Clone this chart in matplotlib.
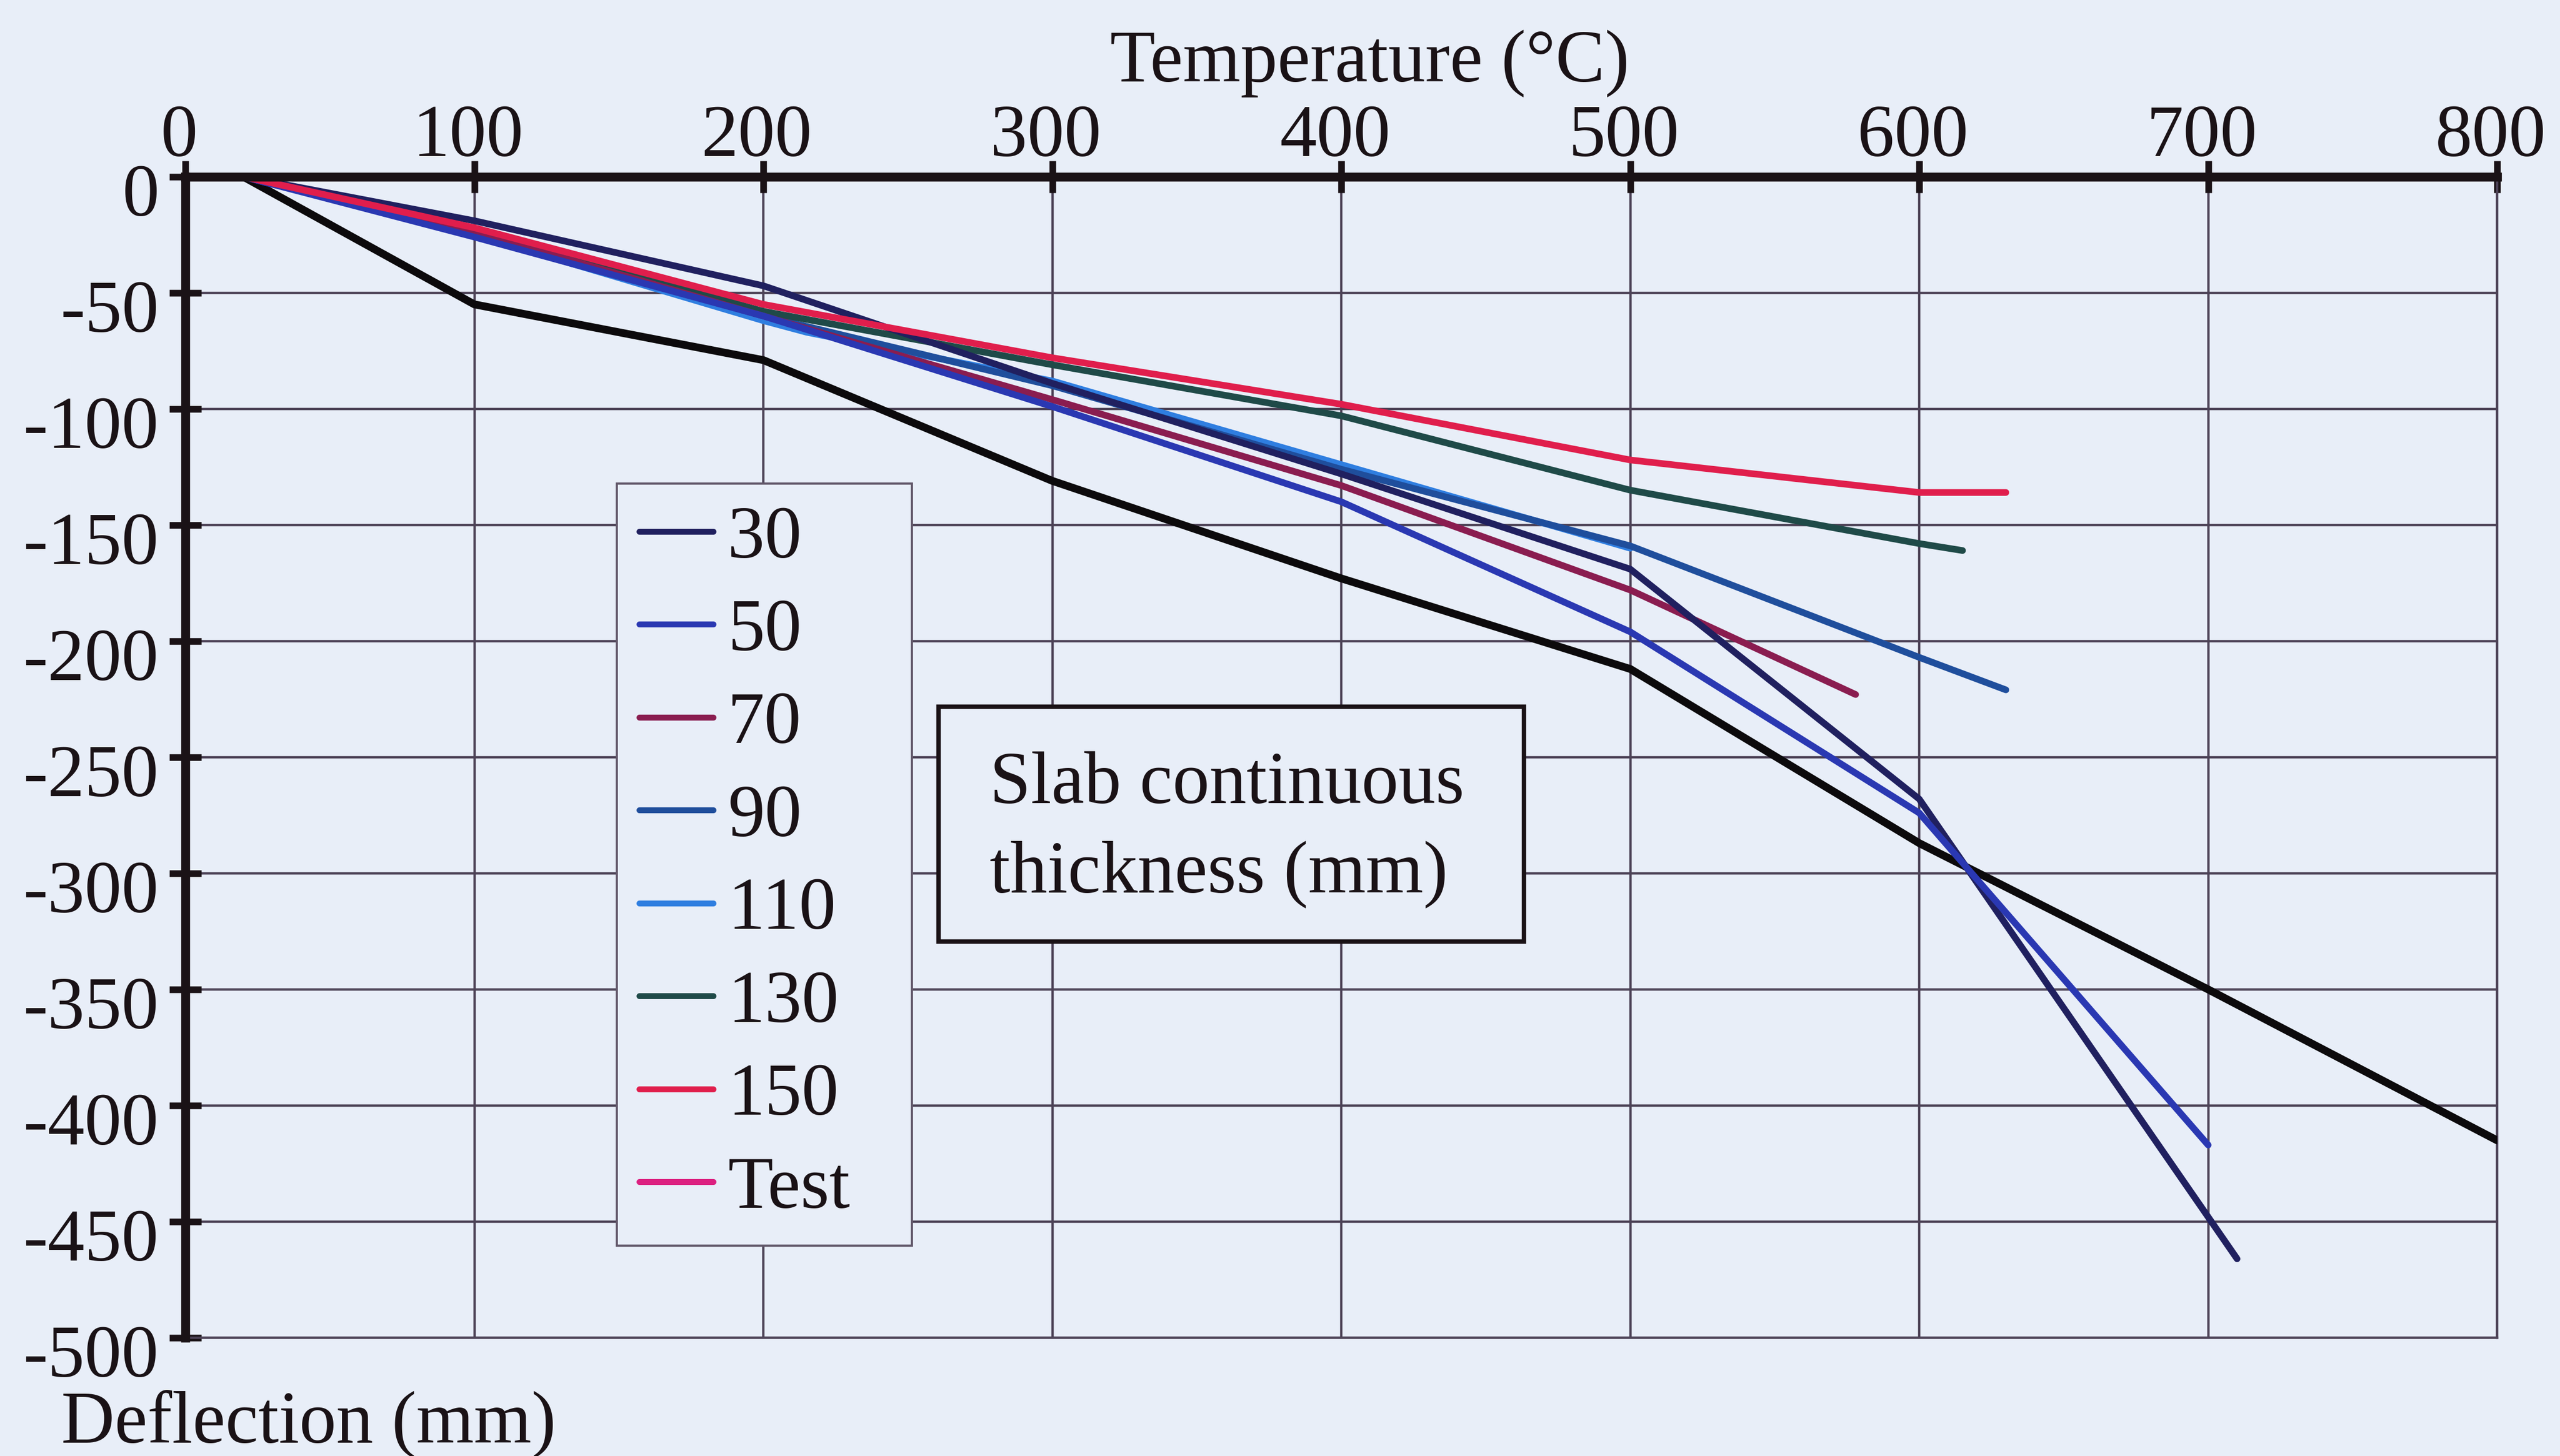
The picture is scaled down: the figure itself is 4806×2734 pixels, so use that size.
import matplotlib
matplotlib.use("Agg")
import matplotlib.pyplot as plt
import matplotlib.transforms as mtransforms
from matplotlib.patches import Rectangle

plt.rcParams["axes.unicode_minus"] = False

# Slab deflection vs temperature for different continuous slab thicknesses
temp_30 = [20, 100, 200, 300, 400, 500, 600, 700, 710]
defl_30 = [0, -19, -47, -89, -128, -169, -268, -448, -466]

temp_50 = [20, 100, 200, 300, 400, 500, 600, 700]
defl_50 = [0, -26, -60, -99, -140, -196, -274, -417]

temp_70 = [20, 100, 200, 300, 400, 500, 578]
defl_70 = [0, -24, -60, -96, -133, -178, -223]

temp_90 = [20, 100, 200, 300, 400, 500, 600, 630]
defl_90 = [0, -25, -60, -90, -126, -159, -207, -221]

temp_110 = [20, 100, 200, 215, 300, 400, 500]
defl_110 = [0, -25, -62, -67, -88, -124, -160]

temp_130 = [20, 100, 200, 300, 400, 500, 600, 615]
defl_130 = [0, -23, -58, -81, -103, -135, -158, -161]

temp_150 = [20, 100, 200, 300, 400, 500, 600, 630]
defl_150 = [0, -22, -55, -78, -98, -122, -136, -136]

temp_test = []
defl_test = []

temp_ref = [20, 100, 200, 300, 400, 500, 600, 700, 800]
defl_ref = [0, -55, -79, -131, -173, -212, -287, -350, -415]

labels = ["30", "50", "70", "90", "110", "130", "150", "Test"]
colors = ["#20205f", "#2a38b2", "#8a1d50", "#1f4e9c", "#2f7ee0",
          "#1f4a48", "#e01e4c", "#dc2080"]

x_ticks = [0, 100, 200, 300, 400, 500, 600, 700, 800]
y_ticks = [0, -50, -100, -150, -200, -250, -300, -350, -400, -450, -500]

BG = "#e8eef8"
INK = "#1a1216"
GRID = "#4c4256"
FONT = "Liberation Serif"
FS = 100

W, H = 4806, 2734
fig = plt.figure(figsize=(W / 100, H / 100), dpi=100, facecolor=BG)
ax = fig.add_axes([348 / W, 1 - 2512 / H, (4688 - 348) / W, (2512 - 331.7) / H])
ax.set_facecolor(BG)

ax.set_xlim(0, 800)
ax.set_ylim(-500, 0)
ax.set_xticks(x_ticks)
ax.set_yticks(y_ticks)
ax.xaxis.tick_top()
ax.yaxis.tick_left()
ax.grid(True, color=GRID, linewidth=3.2)
ax.set_axisbelow(True)

for side in ("left", "top"):
    ax.spines[side].set_linewidth(12)
    ax.spines[side].set_color(INK)
    ax.spines[side].set_zorder(5)
for side in ("right", "bottom"):
    ax.spines[side].set_linewidth(3.2)
    ax.spines[side].set_color(GRID)

ax.tick_params(axis="both", direction="inout", length=43, width=9, color=INK,
               labelsize=FS, labelcolor=INK)
ax.tick_params(axis="x", pad=-15)
ax.tick_params(axis="y", pad=14)
for lab in ax.get_xticklabels() + ax.get_yticklabels():
    lab.set_fontfamily(FONT)

# shift tick labels slightly relative to their ticks
dy = mtransforms.ScaledTranslation(0, -25 / 100, fig.dpi_scale_trans)
for lab in ax.get_yticklabels():
    lab.set_transform(lab.get_transform() + dy)
dx = mtransforms.ScaledTranslation(-12 / 100, 0, fig.dpi_scale_trans)
for lab in ax.get_xticklabels():
    lab.set_transform(lab.get_transform() + dx)

series = [(temp_30, defl_30), (temp_50, defl_50), (temp_70, defl_70),
          (temp_90, defl_90), (temp_110, defl_110), (temp_130, defl_130),
          (temp_150, defl_150), (temp_test, defl_test)]

ax.plot(temp_ref, defl_ref, color="#0c0a0c", linewidth=10.5, zorder=3,
        solid_joinstyle="round", solid_capstyle="round")
draw_order = [4, 3, 5, 2, 0, 1, 6, 7]
handles = {}
for i in draw_order:
    t, d = series[i]
    (ln,) = ax.plot(t, d, color=colors[i], linewidth=9, zorder=4,
                    solid_joinstyle="round", solid_capstyle="round",
                    label=labels[i])
    handles[i] = ln

leg = ax.legend([handles[i] for i in range(len(labels))], labels,
                loc="upper left",
                bbox_to_anchor=(1158 / W, 1 - 935 / H, (1712 - 1158) / W, 0.01),
                bbox_transform=fig.transFigure, mode="expand",
                prop={"family": FONT, "size": FS}, frameon=True, fancybox=False,
                borderpad=0.3, labelspacing=0.34, handlelength=1.0,
                handletextpad=0.2, borderaxespad=0)
frame = leg.get_frame()
frame.set_facecolor(BG)
frame.set_edgecolor("#62586a")
frame.set_linewidth(3)
frame.set_alpha(1)
leg.set_zorder(6)
for txt in leg.get_texts():
    txt.set_color(INK)
for lh in leg.get_lines():
    lh.set_linewidth(8)

# caption box inside the plot area
fig.patches.append(Rectangle((1762 / W, 1 - 1768 / H), (2861 - 1762) / W,
                             (1768 - 1327) / H, transform=fig.transFigure,
                             facecolor=BG, edgecolor=INK, linewidth=6,
                             zorder=6))
fig.text(1858 / W, 1 - 1508 / H, "Slab continuous", family=FONT, size=FS,
         color=INK, ha="left", va="baseline", zorder=7)
fig.text(1858 / W, 1 - 1676 / H, "thickness (mm)", family=FONT, size=FS,
         color=INK, ha="left", va="baseline", zorder=7)

fig.text(2571 / W, 1 - 153 / H, "Temperature (°C)", family=FONT, size=FS,
         color=INK, ha="center", va="baseline")
fig.text(115 / W, 1 - 2708 / H, "Deflection (mm)", family=FONT, size=FS,
         color=INK, ha="left", va="baseline")

fig.savefig("out.png", dpi=100, facecolor=BG)
